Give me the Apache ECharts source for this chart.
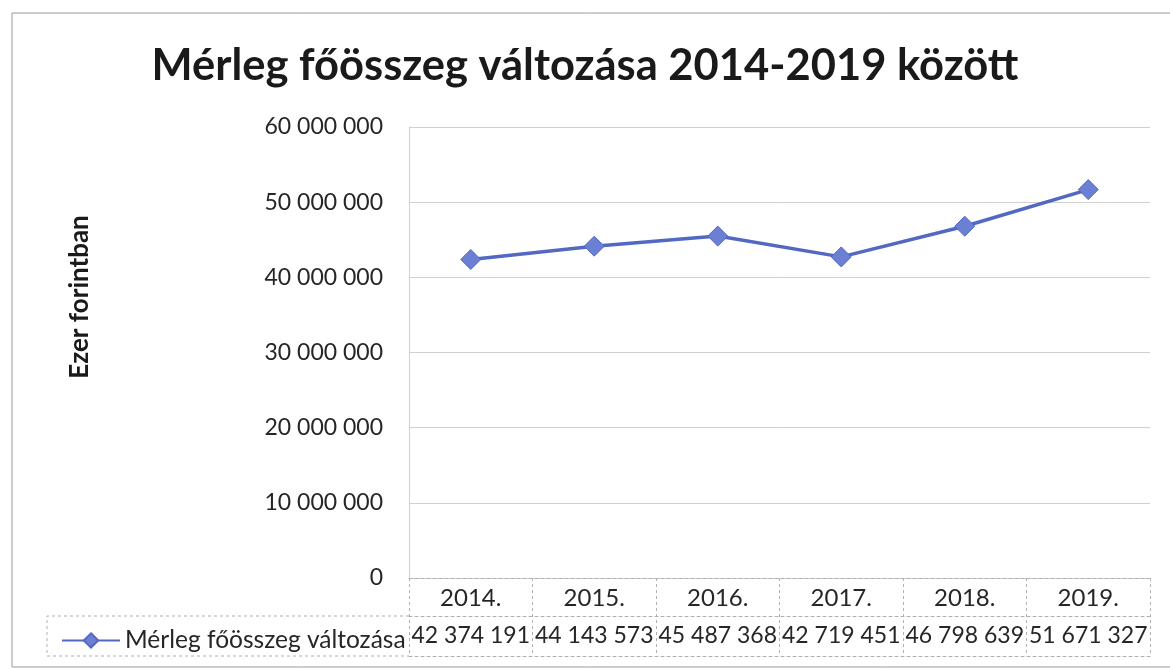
<!DOCTYPE html>
<html><head><meta charset="utf-8">
<script src="https://cdn.jsdelivr.net/npm/echarts@6/dist/echarts.min.js"></script>
<style>html,body{margin:0;padding:0;background:#fff}#c{width:1170px;height:669px}</style>
</head><body><div id="c"></div>
<script>
const titleText = 'Mérleg főösszeg változása 2014-2019 között';
const yAxisName = 'Ezer forintban';
const seriesName = 'Mérleg főösszeg változása';
const categories = ['2014.', '2015.', '2016.', '2017.', '2018.', '2019.'];
const values = [42374191, 44143573, 45487368, 42719451, 46798639, 51671327];
const yTicks = [0, 10000000, 20000000, 30000000, 40000000, 50000000, 60000000];

const fmt = v => String(v).replace(/\B(?=(\d{3})+(?!\d))/g, ' ');
const FONT = 'Lato';
const chart = echarts.init(document.getElementById('c'));
const dash = {color: '#b0b0b0', type: [3, 3], width: 1};
chart.setOption({
  animation: false,
  backgroundColor: '#fff',
  title: {text: titleText, left: 'center', top: 39,
    textStyle: {fontFamily: FONT, fontWeight: 'bold', fontSize: 43.5, color: '#1a1a1a'}},
  legend: {data: [seriesName], left: 56, top: 623, itemWidth: 58, itemHeight: 18, itemGap: 4,
    textStyle: {fontFamily: FONT, fontSize: 24.5, color: '#262626'}},
  grid: {left: 409, right: 20, top: 127, bottom: 91},
  xAxis: [
    {type: 'category', data: categories, boundaryGap: true,
      axisLine: {show: true, lineStyle: dash},
      axisTick: {show: true, length: 78, lineStyle: dash},
      axisLabel: {interval: 0, margin: 8, fontFamily: FONT, fontSize: 24, color: '#262626'}},
    {type: 'category', data: categories, position: 'bottom', offset: 38,
      axisLine: {show: true, lineStyle: dash}, axisTick: {show: false},
      axisLabel: {interval: 0, margin: 8, fontFamily: FONT, fontSize: 23, color: '#262626',
        formatter: (v, i) => fmt(values[i])}},
    {type: 'category', data: categories, position: 'bottom', offset: 78,
      axisLine: {show: true, lineStyle: dash}, axisTick: {show: false}, axisLabel: {show: false}}
  ],
  yAxis: {type: 'value', min: yTicks[0], max: yTicks[yTicks.length - 1], interval: 10000000,
    axisLine: {show: true, lineStyle: {color: '#d0d0d0'}}, axisTick: {show: false},
    splitLine: {lineStyle: {color: '#d0d0d0', width: 1}},
    axisLabel: {margin: 26, fontFamily: FONT, fontSize: 23, color: '#262626', formatter: v => fmt(v)}},
  series: [{name: seriesName, type: 'line', data: values, xAxisIndex: 0,
    symbol: 'diamond', symbolSize: 20,
    lineStyle: {color: '#5368c2', width: 3.5},
    itemStyle: {color: '#6b7fd4', borderColor: '#5368c2', borderWidth: 1}}],
  graphic: [
    {type: 'rect', shape: {x: 12, y: 13, width: 1170, height: 654}, silent: true,
      style: {fill: 'none', stroke: '#9a9a9a', lineWidth: 1}},
    {type: 'polyline', shape: {points: [[409, 616], [47, 616], [47, 656], [409, 656]]}, silent: true,
      style: {fill: 'none', stroke: '#b0b0b0', lineWidth: 1, lineDash: [3, 3]}},
    {type: 'text', x: 80, y: 297, rotation: Math.PI / 2, silent: true,
      style: {text: yAxisName, fontFamily: FONT, fontWeight: 'bold', fontSize: 26, fill: '#1a1a1a',
        align: 'center', verticalAlign: 'middle'}}
  ]
});
</script></body></html>
